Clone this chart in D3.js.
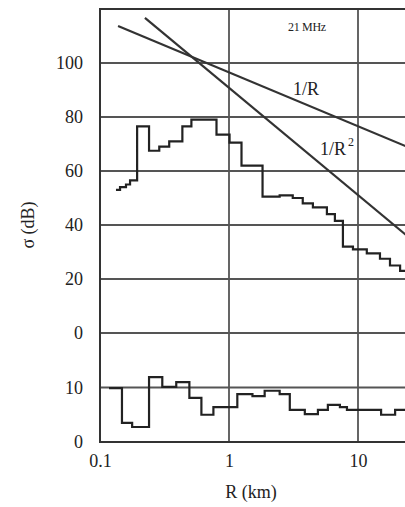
<!DOCTYPE html>
<html>
<head>
<meta charset="utf-8">
<script src="https://cdnjs.cloudflare.com/ajax/libs/d3/7.8.5/d3.min.js"></script>
<style>
  body { margin: 0; background: #fff; }
  svg text { font-family: "Liberation Serif", "DejaVu Serif", serif; fill: #222; }
</style>
</head>
<body>
<div id="chartid"></div>
<script>
/***** data *****/
// upper trace: range breakpoints (km) and level of each step (dB)
var upperR = [0.133, 0.143, 0.159, 0.171, 0.194, 0.240, 0.288, 0.344, 0.435, 0.511, 0.80, 1.01, 1.25,
  1.82, 2.47, 3.12, 3.73, 4.47, 5.74, 6.62, 7.64, 9.14, 11.7, 14.8, 17.7, 21.2, 25.4];
var upperValues = [53, 54, 55, 56.5, 76.5, 67.5, 69, 71, 76.5, 79, 73.5, 70.5, 62,
  50.5, 51, 50, 48, 46.5, 44, 41.5, 32, 31, 29.5, 27.5, 25, 23];

// lower trace (own 0-20 dB scale)
var lowerR = [0.1175, 0.148, 0.1775, 0.240, 0.304, 0.390, 0.493, 0.611, 0.757, 1.16, 1.52,
  1.89, 2.47, 2.96, 3.87, 4.89, 5.84, 7.24, 8.21, 15.1, 19.4, 25.4];
var lowerValues = [9.9, 3.5, 2.75, 11.9, 10.1, 11, 8.1, 5, 6.4, 8.8, 8.4,
  9.4, 8.8, 5.9, 5.1, 5.9, 6.8, 6.4, 5.9, 5, 5.9];

// reference slopes, end points
var lineOneOverR = [{r: 0.138, v: 113.7}, {r: 24, v: 69}];
var lineOneOverR2 = [{r: 0.223, v: 116.7}, {r: 24, v: 36}];

// ticks
var xTicks = [0.1, 1, 10];
var xTickLabels = ["0.1", "1", "10"];
var upperTicks = [0, 20, 40, 60, 80, 100];
var lowerTicks = [0, 10];

//chart parameters
var width = 405;
var height = 507;
var margin = {top: 9, left: 100, bottom: 65};

var svg = d3.select("div#chartid")
  .append("svg")
  .attr("width", width)
  .attr("height", height)
;

//scales: log x, two stacked linear y scales
var x = d3.scaleLog()
  .domain([0.1, 100])
  .range([margin.left, margin.left + 3 * 129])
;
var yUpper = d3.scaleLinear()
  .domain([0, 120])
  .range([333, margin.top])
;
var yLower = d3.scaleLinear()
  .domain([0, 20])
  .range([height - margin.bottom, 333])
;

var plotBottom = yLower(0);

//grid
var grid = svg.append("g").attr("class", "grid");

grid.selectAll("line.vx")
  .data(xTicks.slice(1))
  .enter().append("line")
  .attr("x1", function(d) { return x(d); })
  .attr("x2", function(d) { return x(d); })
  .attr("y1", margin.top)
  .attr("y2", plotBottom)
  .attr("stroke", "#555")
  .attr("stroke-width", 1.8)
;

grid.selectAll("line.hu")
  .data(upperTicks)
  .enter().append("line")
  .attr("x1", margin.left)
  .attr("x2", width)
  .attr("y1", function(d) { return yUpper(d); })
  .attr("y2", function(d) { return yUpper(d); })
  .attr("stroke", "#555")
  .attr("stroke-width", 1.8)
;

grid.selectAll("line.hl")
  .data(lowerTicks.slice(1))
  .enter().append("line")
  .attr("x1", margin.left)
  .attr("x2", width)
  .attr("y1", function(d) { return yLower(d); })
  .attr("y2", function(d) { return yLower(d); })
  .attr("stroke", "#555")
  .attr("stroke-width", 1.8)
;

//frame (left, top, bottom)
svg.append("path")
  .attr("d", "M" + width + "," + margin.top + "H" + margin.left + "V" + plotBottom + "H" + width)
  .attr("fill", "none")
  .attr("stroke", "#333")
  .attr("stroke-width", 2)
;

//axes
var xAxis = d3.axisBottom(x)
  .tickValues(xTicks)
  .tickFormat(function(d, i) { return xTickLabels[i]; })
  .tickSize(0)
  .tickPadding(12)
;
svg.append("g")
  .attr("class", "x axis")
  .attr("transform", "translate(0," + plotBottom + ")")
  .call(xAxis)
  .call(function(g) { g.select(".domain").remove(); })
  .selectAll("text")
  .attr("font-size", 18)
  .attr("fill", "#222")
;

var yAxisUpper = d3.axisLeft(yUpper)
  .tickValues(upperTicks)
  .tickSize(0)
  .tickPadding(17)
;
svg.append("g")
  .attr("class", "y axis")
  .attr("transform", "translate(" + margin.left + ",0)")
  .call(yAxisUpper)
  .call(function(g) { g.select(".domain").remove(); })
  .selectAll("text")
  .attr("font-size", 18)
  .attr("fill", "#222")
;

var yAxisLower = d3.axisLeft(yLower)
  .tickValues(lowerTicks)
  .tickSize(0)
  .tickPadding(17)
;
svg.append("g")
  .attr("class", "y axis")
  .attr("transform", "translate(" + margin.left + ",0)")
  .call(yAxisLower)
  .call(function(g) { g.select(".domain").remove(); })
  .selectAll("text")
  .attr("font-size", 18)
  .attr("fill", "#222")
;

//axis titles
svg.append("text")
  .attr("x", 251)
  .attr("y", 498)
  .attr("text-anchor", "middle")
  .attr("font-size", 18)
  .text("R (km)")
;
svg.append("text")
  .attr("transform", "translate(34,225) rotate(-90)")
  .attr("text-anchor", "middle")
  .attr("font-size", 18)
  .text("σ (dB)")
;

//step traces
var stepPoints = function(rs, vs) {
  var pts = vs.map(function(v, i) { return [rs[i], v]; });
  pts.push([rs[rs.length - 1], vs[vs.length - 1]]);
  return pts;
};

var upperLine = d3.line()
  .curve(d3.curveStepAfter)
  .x(function(d) { return x(d[0]); })
  .y(function(d) { return yUpper(d[1]); })
;
var lowerLine = d3.line()
  .curve(d3.curveStepAfter)
  .x(function(d) { return x(d[0]); })
  .y(function(d) { return yLower(d[1]); })
;

svg.append("path")
  .datum(stepPoints(upperR, upperValues))
  .attr("d", upperLine)
  .attr("fill", "none")
  .attr("stroke", "#222")
  .attr("stroke-width", 2.2)
;
svg.append("path")
  .datum(stepPoints(lowerR, lowerValues))
  .attr("d", lowerLine)
  .attr("fill", "none")
  .attr("stroke", "#222")
  .attr("stroke-width", 2.2)
;

//reference slopes
var slopeLine = d3.line()
  .x(function(d) { return x(d.r); })
  .y(function(d) { return yUpper(d.v); })
;
[lineOneOverR, lineOneOverR2].forEach(function(d) {
  svg.append("path")
    .datum(d)
    .attr("d", slopeLine)
    .attr("fill", "none")
    .attr("stroke", "#333")
    .attr("stroke-width", 2.2)
  ;
});

//labels
svg.append("text")
  .attr("x", 288)
  .attr("y", 31)
  .attr("font-size", 12)
  .attr("letter-spacing", -0.3)
  .text("21 MHz")
;
svg.append("text")
  .attr("x", 293)
  .attr("y", 95)
  .attr("font-size", 18)
  .text("1/R")
;
var r2 = svg.append("text")
  .attr("x", 320)
  .attr("y", 155)
  .attr("font-size", 18)
;
r2.append("tspan").text("1/R");
r2.append("tspan")
  .attr("x", 348)
  .attr("y", 146)
  .attr("font-size", 12)
  .text("2")
;
</script>
</body>
</html>
